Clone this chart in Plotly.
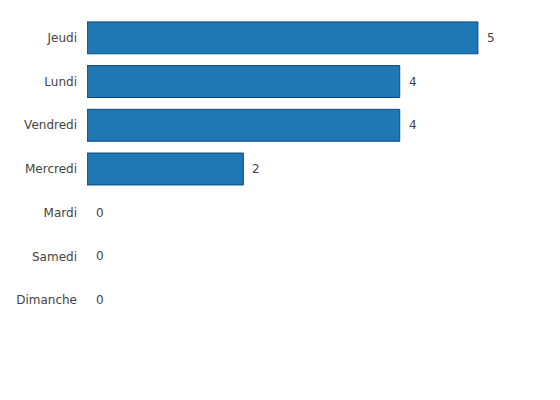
import plotly.graph_objects as go

jours = ["Jeudi", "Lundi", "Vendredi", "Mercredi", "Mardi", "Samedi", "Dimanche"]
nombres = [5, 4, 4, 2, 0, 0, 0]

fig = go.Figure()
fig.add_trace(go.Bar(
    x=nombres,
    y=jours,
    orientation="h",
    marker=dict(color="#1f77b4",
                line=dict(color="#0d4a7d", width=[1 if n > 0 else 0 for n in nombres])),
    hoverinfo="x+y",
))

# valeurs a droite des barres
for j, n in zip(jours, nombres):
    fig.add_annotation(x=n, y=j, text=str(n), showarrow=False,
                       xanchor="left", xshift=7,
                       font=dict(size=12, color="#444"))

fig.update_layout(
    width=560, height=400,
    margin=dict(l=79, r=51, t=8, b=86),
    paper_bgcolor="white", plot_bgcolor="white",
    font=dict(family="DejaVu Sans", size=12, color="#444"),
    bargap=0.27,
    showlegend=False,
)
fig.update_xaxes(range=[0, 5.5], showgrid=False, zeroline=False,
                 showticklabels=False, showline=False)
fig.update_yaxes(autorange="reversed", showgrid=False, zeroline=False,
                 showline=False, ticks="", ticklabelstandoff=9)

fig.write_html("out.html")
